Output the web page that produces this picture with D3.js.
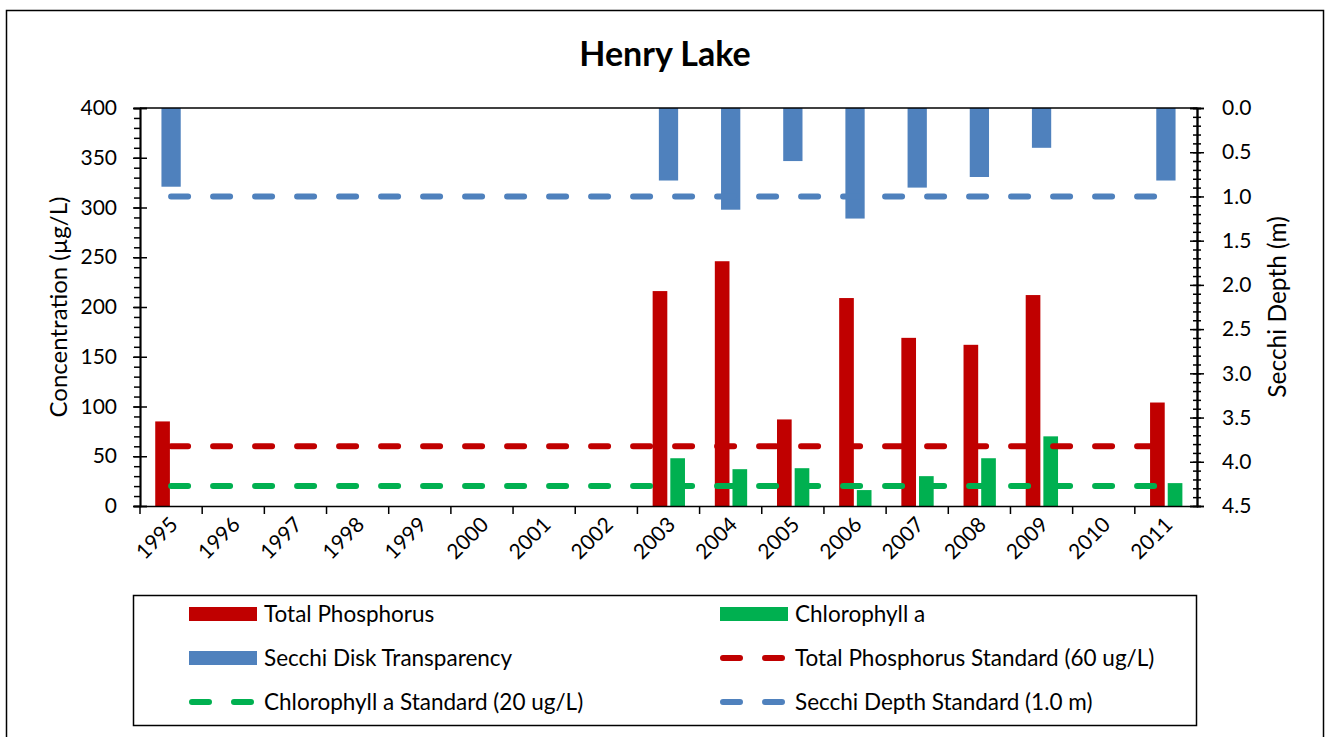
<!DOCTYPE html>
<html>
<head>
<meta charset="utf-8">
<script src="https://cdn.jsdelivr.net/npm/d3@7"></script>
<style>
  body { margin: 0; background: #fff; }
  svg { font-family: Lato, "Open Sans", sans-serif; }
</style>
</head>
<body>
<svg width="1331" height="737"></svg>
<script>
// data
const years = ['1995','1996','1997','1998','1999','2000','2001','2002','2003','2004','2005','2006','2007','2008','2009','2010','2011'];
const phosphorus = [85, null, null, null, null, null, null, null, 216, 246, 87, 209, 169, 162, 212, null, 104];
const chlorophyll = [null, null, null, null, null, null, null, null, 48, 37, 38, 16, 30, 48, 70, null, 23];
const secchi = [0.89, null, null, null, null, null, null, null, 0.82, 1.15, 0.60, 1.25, 0.90, 0.78, 0.45, null, 0.82];
const tpStandard = 60;
const chlStandard = 20;
const secchiStandard = 1.0;
const leftTicks = [0, 50, 100, 150, 200, 250, 300, 350, 400];
const rightTicks = [0, 0.5, 1, 1.5, 2, 2.5, 3, 3.5, 4, 4.5];

const red = '#C00000', green = '#00B050', blue = '#4F81BD';

const svg = d3.select('svg');
const margin = {left: 140, right: 134, top: 108, bottom: 231};
const width = +svg.attr('width');
const height = +svg.attr('height');

// outer frame
svg.append('rect')
  .attr('x', 6.5).attr('y', 10.5)
  .attr('width', 1317).attr('height', 740)
  .attr('fill', 'none').attr('stroke', '#000').attr('stroke-width', 1.5);

svg.append('text')
  .attr('x', 665).attr('y', 66)
  .attr('text-anchor', 'middle')
  .attr('font-size', 34).attr('font-weight', 'bold')
  .text('Henry Lake');

const x = d3.scaleBand().domain(years)
  .range([margin.left, width - margin.right]);
const bw = x.bandwidth();
const inner = d3.scaleBand().domain(['tp', 'chl'])
  .range([0.245 * bw, 0.765 * bw]).paddingInner(0.17);
const y = d3.scaleLinear().domain([0, 400]).range([height - margin.bottom, margin.top]);
const ySec = d3.scaleLinear().domain([0, 4.5]).range([margin.top, height - margin.bottom]);

// bars
const tpData = years.map((yr, i) => ({yr, v: phosphorus[i]})).filter(d => d.v != null);
const chlData = years.map((yr, i) => ({yr, v: chlorophyll[i]})).filter(d => d.v != null);
const sdData = years.map((yr, i) => ({yr, v: secchi[i]})).filter(d => d.v != null);

svg.append('g').selectAll('rect').data(tpData).join('rect')
  .attr('x', d => x(d.yr) + inner('tp'))
  .attr('width', inner.bandwidth())
  .attr('y', d => y(d.v))
  .attr('height', d => y(0) - y(d.v))
  .attr('fill', red);

svg.append('g').selectAll('rect').data(chlData).join('rect')
  .attr('x', d => x(d.yr) + inner('chl'))
  .attr('width', inner.bandwidth())
  .attr('y', d => y(d.v))
  .attr('height', d => y(0) - y(d.v))
  .attr('fill', green);

const sdW = 0.31 * bw;
svg.append('g').selectAll('rect').data(sdData).join('rect')
  .attr('x', d => x(d.yr) + bw / 2 - sdW / 2)
  .attr('width', sdW)
  .attr('y', ySec(0))
  .attr('height', d => ySec(d.v) - ySec(0))
  .attr('fill', blue);

// standard lines
const first = years[0], last = years[years.length - 1];
const dash = '17 25';
function stdLine(yy, color) {
  svg.append('line')
    .attr('x1', x(first) + bw / 2).attr('x2', x(last) + bw / 2)
    .attr('y1', yy).attr('y2', yy)
    .attr('stroke', color).attr('stroke-width', 6)
    .attr('stroke-linecap', 'round')
    .attr('stroke-dasharray', dash);
}
stdLine(ySec(secchiStandard), blue);
stdLine(y(tpStandard), red);
stdLine(y(chlStandard), green);

// axes
const axisStyle = g => {
  g.selectAll('path, line').attr('stroke', '#000').attr('stroke-width', 1.5);
  g.selectAll('text').attr('fill', '#000');
};

// left axis, minor + major ticks
svg.append('g').attr('transform', `translate(${margin.left},0)`)
  .call(d3.axisLeft(y).tickValues(d3.range(0, 401, 10)).tickSize(6).tickFormat(''))
  .call(axisStyle);
svg.append('g').attr('transform', `translate(${margin.left},0)`)
  .call(d3.axisRight(y).tickValues(leftTicks).tickSize(7).tickFormat(''))
  .call(axisStyle);
svg.append('g').attr('transform', `translate(${margin.left},0)`)
  .call(d3.axisLeft(y).tickValues(leftTicks).tickSize(7).tickPadding(16))
  .call(axisStyle)
  .selectAll('text').attr('font-size', 21).attr('font-family', 'Lato');

// right axis
const rightX = width - margin.right;
svg.append('g').attr('transform', `translate(${rightX},0)`)
  .call(d3.axisRight(ySec).tickValues(d3.range(0, 45).map(d => d / 10).concat([4.5])).tickSize(4).tickFormat(''))
  .call(axisStyle);
svg.append('g').attr('transform', `translate(${rightX},0)`)
  .call(d3.axisLeft(ySec).tickValues(d3.range(0, 45).map(d => d / 10)).tickSize(4).tickFormat(''))
  .call(axisStyle);
svg.append('g').attr('transform', `translate(${rightX},0)`)
  .call(d3.axisLeft(ySec).tickValues(rightTicks).tickSize(7).tickFormat(''))
  .call(axisStyle);
svg.append('g').attr('transform', `translate(${rightX},0)`)
  .call(d3.axisRight(ySec).tickValues(rightTicks).tickSize(7).tickPadding(18).tickFormat(d3.format('.1f')))
  .call(axisStyle)
  .selectAll('text').attr('font-size', 21).attr('font-family', 'Lato');

// top line (secondary horizontal axis)
svg.append('line')
  .attr('x1', margin.left).attr('x2', rightX)
  .attr('y1', margin.top).attr('y2', margin.top)
  .attr('stroke', '#000').attr('stroke-width', 1.5);

// bottom axis
const xAxis = svg.append('g').attr('transform', `translate(0,${y(0)})`)
  .call(d3.axisBottom(x).tickSize(8).tickSizeOuter(0))
  .call(axisStyle);
xAxis.selectAll('.tick line').attr('x1', -bw / 2).attr('x2', -bw / 2);
xAxis.selectAll('.tick text')
  .attr('font-size', 21).attr('font-family', 'Lato')
  .attr('text-anchor', 'end')
  .attr('y', 0).attr('dy', 0)
  .attr('transform', 'translate(8,20) rotate(-45)');

// axis titles
svg.append('text')
  .attr('transform', `translate(67,${(y(0) + y(400)) / 2}) rotate(-90)`)
  .attr('text-anchor', 'middle').attr('font-size', 24)
  .text('Concentration (µg/L)');
svg.append('text')
  .attr('transform', `translate(1286,${(y(0) + y(400)) / 2}) rotate(-90)`)
  .attr('text-anchor', 'middle').attr('font-size', 24.5)
  .text('Secchi Depth (m)');

// legend
const legendItems = [
  {label: 'Total Phosphorus', color: red, type: 'bar'},
  {label: 'Chlorophyll a', color: green, type: 'bar'},
  {label: 'Secchi Disk Transparency', color: blue, type: 'bar'},
  {label: 'Total Phosphorus Standard (60 ug/L)', color: red, type: 'line'},
  {label: 'Chlorophyll a Standard (20 ug/L)', color: green, type: 'line'},
  {label: 'Secchi Depth Standard (1.0 m)', color: blue, type: 'line'}
];
svg.append('rect')
  .attr('x', 133.5).attr('y', 595.5).attr('width', 1063).attr('height', 130)
  .attr('fill', 'none').attr('stroke', '#000').attr('stroke-width', 1.5);
const lg = svg.append('g').selectAll('g').data(legendItems).join('g')
  .attr('transform', (d, i) => `translate(${i % 2 ? 720 : 189},${614 + Math.floor(i / 2) * 44})`);
lg.filter(d => d.type === 'bar').append('rect')
  .attr('x', 0).attr('y', -7).attr('width', 68).attr('height', 14)
  .attr('fill', d => d.color);
lg.filter(d => d.type === 'line').append('line')
  .attr('x1', 3).attr('x2', 65).attr('y1', 0).attr('y2', 0)
  .attr('stroke', d => d.color).attr('stroke-width', 6)
  .attr('stroke-linecap', 'round').attr('stroke-dasharray', '17 25');
lg.append('text')
  .attr('x', 75).attr('y', 0).attr('dy', '0.35em')
  .attr('font-size', 22.5)
  .text(d => d.label);
</script>
</body>
</html>
